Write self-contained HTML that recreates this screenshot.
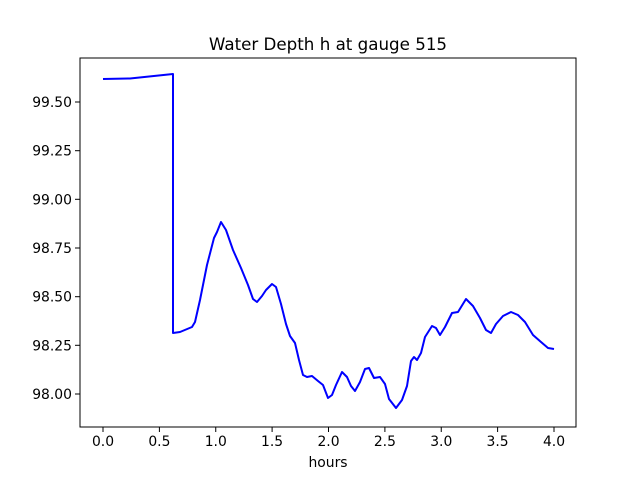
<!DOCTYPE html>
<html><head><meta charset="utf-8"><style>
html,body{margin:0;padding:0;background:#fff;}
svg{display:block;font-family:"DejaVu Sans","Liberation Sans",sans-serif;}
</style></head><body>
<svg width="640" height="480" viewBox="0 0 640 480">
<rect width="640" height="480" fill="#fff"/>
<polyline fill="none" stroke="#0000ff" stroke-width="2" stroke-linejoin="round" points="103,79 130,78.5 173,74 173,333 180,332 192,327 195,322 200,300 207,265 214,238 217,232 221,222 226,230 233,250 241,268 248,285 253,299 257,302 262,296 266,290 272,284 276,287 281,304 286,324 290,336 295,343 299,360 303,375 307,377 312,376 318,381 323,385 328,398 332,395 336,385 342,372 347,377 351,386 355,391 360,382 365,369 369,368 374,378 380,377 385,384 389,399 396,408 402,400 407,386 411,361 414,357 417,360 421,353 425,337 432,326 436,328 440,335 445,327 452,313 458,312 466,299 473,306 480,318 486,330 491,333 496,324 503,316 511,312 518,315 525,322 533,335 541,342 548,348 554,349"/>
<rect x="80" y="58" width="496" height="369" fill="none" stroke="#000" stroke-width="1"/>
<g stroke="#000" stroke-width="1">
<line x1="103" y1="427" x2="103" y2="432"/><line x1="159.4" y1="427" x2="159.4" y2="432"/><line x1="215.75" y1="427" x2="215.75" y2="432"/><line x1="272.1" y1="427" x2="272.1" y2="432"/><line x1="328.5" y1="427" x2="328.5" y2="432"/><line x1="384.9" y1="427" x2="384.9" y2="432"/><line x1="441.25" y1="427" x2="441.25" y2="432"/><line x1="497.6" y1="427" x2="497.6" y2="432"/><line x1="554" y1="427" x2="554" y2="432"/>
<line x1="75" y1="394" x2="80" y2="394"/><line x1="75" y1="345.3" x2="80" y2="345.3"/><line x1="75" y1="296.7" x2="80" y2="296.7"/><line x1="75" y1="248" x2="80" y2="248"/><line x1="75" y1="199.3" x2="80" y2="199.3"/><line x1="75" y1="150.7" x2="80" y2="150.7"/><line x1="75" y1="102" x2="80" y2="102"/>
</g>
<g font-size="13.9" fill="#000" text-anchor="middle">
<text x="103" y="446">0.0</text><text x="159.4" y="446">0.5</text><text x="215.75" y="446">1.0</text><text x="272.1" y="446">1.5</text><text x="328.5" y="446">2.0</text><text x="384.9" y="446">2.5</text><text x="441.25" y="446">3.0</text><text x="497.6" y="446">3.5</text><text x="554" y="446">4.0</text>
<text x="328" y="467">hours</text>
</g>
<g font-size="13.9" fill="#000" text-anchor="end">
<text x="72" y="399">98.00</text><text x="72" y="350.3">98.25</text><text x="72" y="301.7">98.50</text><text x="72" y="253">98.75</text><text x="72" y="204.3">99.00</text><text x="72" y="155.7">99.25</text><text x="72" y="107">99.50</text>
</g>
<text x="328" y="50" font-size="16.7" text-anchor="middle" fill="#000">Water Depth h at gauge 515</text>
</svg>
</body></html>
